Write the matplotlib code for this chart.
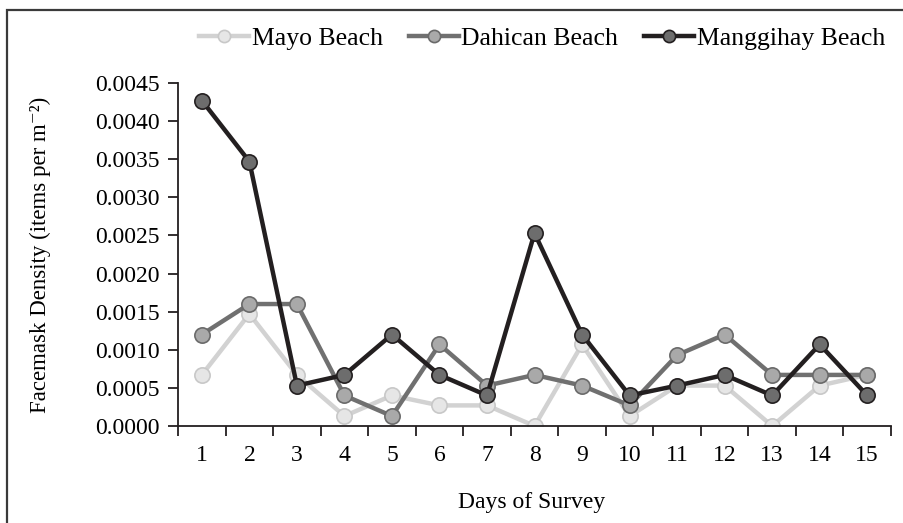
import matplotlib.pyplot as plt
from matplotlib.patches import Rectangle
from matplotlib.ticker import FixedLocator, NullFormatter

plt.rcParams['font.family'] = ['Liberation Serif', 'DejaVu Serif']

days = list(range(1, 16))
mayo = [0.00067, 0.00147, 0.00067, 0.00013, 0.00040, 0.00027, 0.00027, 0.0,
        0.00107, 0.00013, 0.00053, 0.00053, 0.0, 0.00053, 0.00067]
dahican = [0.00120, 0.00160, 0.00160, 0.00040, 0.00013, 0.00107, 0.00053, 0.00067,
           0.00053, 0.00027, 0.00093, 0.00120, 0.00067, 0.00067, 0.00067]
manggihay = [0.00427, 0.00347, 0.00053, 0.00067, 0.00120, 0.00067, 0.00040, 0.00253,
             0.00120, 0.00040, 0.00053, 0.00067, 0.00040, 0.00107, 0.00040]
y_ticks = [0.0, 0.0005, 0.0010, 0.0015, 0.0020, 0.0025, 0.0030, 0.0035, 0.0040, 0.0045]

fig = plt.figure(figsize=(9.04, 5.23), dpi=100)
ax = fig.add_axes([0.197, 0.1855, 0.7886, 0.6558])

# outer frame around the figure (cut off at right and bottom)
fig.patches.append(Rectangle((7 / 904, -0.05), 1.05, 0.05 + 1 - 10 / 523,
                             transform=fig.transFigure, fill=False,
                             edgecolor='#3a3a3a', linewidth=1.6))

ax.plot(days, mayo, color='#d2d2d2', lw=3.2, marker='o', ms=11,
        mfc='#e6e6e6', mec='#c8c8c8', mew=1.2, label='Mayo Beach', zorder=2)
ax.plot(days, dahican, color='#707070', lw=3.2, marker='o', ms=11,
        mfc='#a9a9a9', mec='#6a6a6a', mew=1.2, label='Dahican Beach', zorder=3)
ax.plot(days, manggihay, color='#231f20', lw=3.2, marker='o', ms=11,
        mfc='#6d6d6d', mec='#231f20', mew=1.2, label='Manggihay Beach', zorder=4)

ax.set_xlim(0.5, 15.5)
ax.set_ylim(0, 0.0045)
ax.set_yticks(y_ticks)
ax.set_yticklabels(['%.4f' % v for v in y_ticks])
ax.xaxis.set_major_locator(FixedLocator([i + 0.5 for i in range(0, 16)]))
ax.xaxis.set_major_formatter(NullFormatter())
ax.xaxis.set_minor_locator(FixedLocator(days))
ax.set_xticklabels([str(d) for d in days], minor=True)
ax.tick_params(axis='x', which='major', length=7, width=1.3, direction='out', color='#231f20')
ax.tick_params(axis='x', which='minor', length=0, pad=14, labelsize=17)
ax.tick_params(axis='y', length=7, width=1.3, direction='out', color='#231f20', labelsize=17, pad=6)

for s in ['top', 'right']:
    ax.spines[s].set_visible(False)
for s in ['left', 'bottom']:
    ax.spines[s].set_linewidth(1.3)
    ax.spines[s].set_color('#231f20')

ax.set_xlabel('Days of Survey', fontsize=17)
ax.xaxis.set_label_coords(0.496, -0.192)
ax.set_ylabel('Facemask Density (items per m\u207b\u00b2)', fontsize=16.5)
ax.yaxis.set_label_coords(-0.178, 0.5)

leg = ax.legend(loc='center', bbox_to_anchor=(0.5105, 1.131), ncol=3, frameon=False,
                fontsize=18.5, handlelength=1.95, handletextpad=0.1, columnspacing=1.0,
                markerscale=0.8)

fig.savefig('out.png', dpi=100)
